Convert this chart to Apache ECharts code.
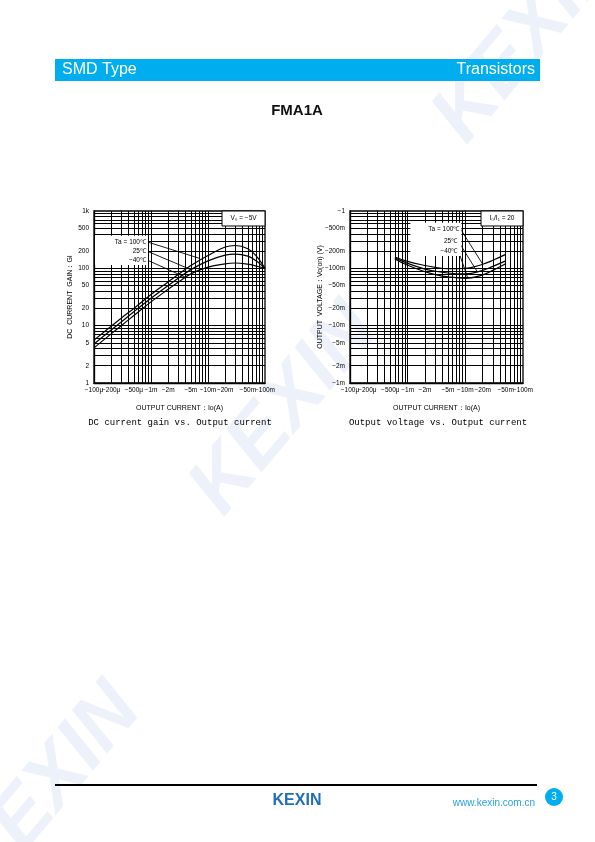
<!DOCTYPE html>
<html><head><meta charset="utf-8">
<script src="https://cdn.jsdelivr.net/npm/echarts@6/dist/echarts.min.js"></script>
<style>html,body{margin:0;padding:0;background:#fff}#c{width:595px;height:842px}</style>
</head><body><div id="c"></div>
<script>
// ---------- data ----------
// Left chart: DC current gain vs output current (current magnitude in A)
const gainCurrent = [0.0001,0.0002,0.0003,0.0005,0.001,0.002,0.003,0.005,0.01,0.02,0.03,0.05,0.07,0.1];
const gain100 = [5.6,9.8,13.5,20,35,58,78,112,168,235,250,220,165,100];
const gain25  = [4.8,8.4,11.6,17.5,30,50,67,95,135,170,177,163,135,100];
const gainM40 = [4.1,7.2,10,15,26,43,57,80,105,120,124,118,110,100];
// Right chart: output voltage vs output current (magnitudes, V)
const satCurrent = [0.0006,0.001,0.002,0.003,0.005,0.01,0.02,0.03,0.05];
const sat100 = [0.158,0.132,0.112,0.104,0.099,0.100,0.118,0.138,0.175];
const sat25  = [0.152,0.122,0.097,0.089,0.083,0.080,0.092,0.108,0.135];
const satM40 = [0.146,0.113,0.087,0.078,0.071,0.067,0.077,0.092,0.120];
// tick labels
const xTickVals = [0.0001,0.0002,0.0005,0.001,0.002,0.005,0.01,0.02,0.05,0.1];
const xTickText = ['−100μ','−200μ','−500μ','−1m','−2m','−5m','−10m','−20m','−50m','−100m'];
const gainTickVals = [1,2,5,10,20,50,100,200,500,1000];
const gainTickText = ['1','2','5','10','20','50','100','200','500','1k'];
const voltTickVals = [0.001,0.002,0.005,0.01,0.02,0.05,0.1,0.2,0.5,1];
const voltTickText = ['−1m','−2m','−5m','−10m','−20m','−50m','−100m','−200m','−500m','−1'];
// log paper grid (1..9 per decade)
const gridMult = [1,2,3,4,5,6,7,8,9];
const xDecades = [0.0001,0.001,0.01];
const gainDecades = [1,10,100];
const voltDecades = [0.001,0.01,0.1];
// annotation leader lines [startX,startY,endX,endY]
const gainLeaders = [[0.00085,290,0.007,150],[0.00085,200,0.005,95],[0.00085,140,0.004,70]];
const gainLeaderText = ['Ta = 100℃','25℃','−40℃'];
const satLeaders = [[0.0082,0.49,0.02,0.118],[0.0075,0.30,0.016,0.088],[0.0076,0.20,0.011,0.068]];
const satLeaderText = ['Ta = 100℃','25℃','−40℃'];

function gridValues(decades){
  const out = [];
  decades.forEach(d=>gridMult.forEach(k=>out.push(d*k)));
  return out;
}
const FONT = 'Liberation Sans Narrow, Liberation Sans, Arial';
function xAxis(gi){
  return {type:'log', gridIndex:gi, min:0.0001, max:0.1, logBase:10,
    axisLine:{show:true,lineStyle:{color:'#000',width:1.3}},
    axisTick:{show:false}, axisLabel:{show:false}, splitLine:{show:false},
    name:'OUTPUT CURRENT：Io(A)', nameLocation:'middle', nameGap:22,
    nameTextStyle:{fontSize:7,color:'#000',fontFamily:FONT}};
}
function yAxis(gi,min,max,name,gap){
  return {type:'log', gridIndex:gi, min:min, max:max, logBase:10,
    axisLine:{show:true,lineStyle:{color:'#000',width:1.3}},
    axisTick:{show:false}, axisLabel:{show:false}, splitLine:{show:false},
    name:name, nameLocation:'middle', nameGap:gap, nameRotate:90,
    nameTextStyle:{fontSize:7,color:'#000',fontFamily:FONT}};
}
function curve(gi,xs,ys){
  return {type:'line', xAxisIndex:gi, yAxisIndex:gi, smooth:0.4, symbol:'none', silent:true,
    lineStyle:{color:'#000',width:1.2}, data:xs.map((x,i)=>[x,ys[i]]), z:5};
}
function leader(gi,l){
  return {type:'line', xAxisIndex:gi, yAxisIndex:gi, symbol:'none', silent:true,
    lineStyle:{color:'#000',width:0.9}, data:[[l[0],l[1]],[l[2],l[3]]], z:6};
}
function gridSeries(gi, xDec, yDec, xMin, xMax, yMin, yMax){
  const d = [];
  gridValues(xDec).forEach(v=>d.push({coords:[[v,yMin],[v,yMax]]}));
  gridValues(yDec).forEach(v=>d.push({coords:[[xMin,v],[xMax,v]]}));
  return {type:'lines', coordinateSystem:'cartesian2d', xAxisIndex:gi, yAxisIndex:gi, silent:true, z:2,
    lineStyle:{color:'#000', width:1, opacity:1, curveness:0}, data:d};
}

const chart = echarts.init(document.getElementById('c'), null, {renderer:'canvas'});
const series = [
  gridSeries(0, xDecades, gainDecades, 0.0001, 0.1, 1, 1000),
  gridSeries(1, xDecades, voltDecades, 0.0001, 0.1, 0.001, 1),
  curve(0,gainCurrent,gain100), curve(0,gainCurrent,gain25), curve(0,gainCurrent,gainM40),
  curve(1,satCurrent,sat100), curve(1,satCurrent,sat25), curve(1,satCurrent,satM40)
];
gainLeaders.forEach(l=>series.push(leader(0,l)));
satLeaders.forEach(l=>series.push(leader(1,l)));

chart.setOption({
  animation:false,
  grid:[
    {left:94, top:211, width:171, height:172, show:true, borderColor:'#000', borderWidth:1.3, backgroundColor:'transparent'},
    {left:350, top:211, width:173, height:172, show:true, borderColor:'#000', borderWidth:1.3, backgroundColor:'transparent'}
  ],
  xAxis:[xAxis(0), xAxis(1)],
  yAxis:[
    yAxis(0,1,1000,'DC  CURRENT  GAIN：GI',20),
    yAxis(1,0.001,1,'OUTPUT  VOLTAGE：Vo(on) (V)',26)
  ],
  series:series
});

// ---------- decorations ----------
const g = [];
const wmColor = '#edf2fa';
[[285,410],[528,38],[48,790]].forEach(p=>{
  g.push({type:'text', x:p[0], y:p[1], rotation:50*Math.PI/180, z:-10, silent:true,
    style:{text:'KEXIN', fill:wmColor, font:'bold italic 80px Liberation Sans, Arial', align:'center', verticalAlign:'middle'}});
});
g.push({type:'rect', shape:{x:55,y:59,width:485,height:22}, style:{fill:'#00aeef'}, z:1});
g.push({type:'text', x:62, y:70, style:{text:'SMD Type', fill:'#fff', font:'16px Liberation Sans, Arial', verticalAlign:'middle'}, z:2});
g.push({type:'text', x:535, y:70, style:{text:'Transistors', fill:'#fff', font:'16px Liberation Sans, Arial', align:'right', verticalAlign:'middle'}, z:2});
g.push({type:'text', x:297, y:111, style:{text:'FMA1A', fill:'#111', font:'bold 15px Liberation Sans, Arial', align:'center', verticalAlign:'middle'}, z:2});
g.push({type:'text', x:180, y:423, style:{text:'DC current gain vs. Output current', fill:'#000', font:'9px Liberation Mono, DejaVu Sans Mono', align:'center', verticalAlign:'middle'}, z:2});
g.push({type:'text', x:438, y:423, style:{text:'Output voltage vs. Output current', fill:'#000', font:'9px Liberation Mono, DejaVu Sans Mono', align:'center', verticalAlign:'middle'}, z:2});
g.push({type:'line', shape:{x1:55,y1:785,x2:537,y2:785}, style:{stroke:'#000', lineWidth:2}, z:2});
g.push({type:'text', x:297, y:801, style:{text:'KEXIN', fill:'#1f6fb8', font:'bold 16px Liberation Sans, Arial', align:'center', verticalAlign:'middle'}, z:2});
g.push({type:'text', x:535, y:803, style:{text:'www.kexin.com.cn', fill:'#2aa2e0', font:'10px Liberation Sans, Arial', align:'right', verticalAlign:'middle'}, z:2});
g.push({type:'circle', shape:{cx:554,cy:797,r:9}, style:{fill:'#00aeef'}, z:2});
g.push({type:'text', x:554, y:797, style:{text:'3', fill:'#fff', font:'10px Liberation Sans, Arial', align:'center', verticalAlign:'middle'}, z:3});

// tick labels placed through the axes' own scales
function tickLabels(gi, xMinY){
  xTickVals.forEach((v,i)=>{
    const p = chart.convertToPixel({gridIndex:gi},[v, xMinY]);
    g.push({type:'text', x:p[0], y:p[1]+4, style:{text:xTickText[i], fill:'#000', font:'6.5px '+FONT, align:'center', verticalAlign:'top'}, z:22});
  });
}
tickLabels(0, 1); tickLabels(1, 0.001);
gainTickVals.forEach((v,i)=>{
  const p = chart.convertToPixel({gridIndex:0},[0.0001, v]);
  g.push({type:'text', x:p[0]-5, y:p[1], style:{text:gainTickText[i], fill:'#000', font:'6.5px '+FONT, align:'right', verticalAlign:'middle'}, z:22});
});
voltTickVals.forEach((v,i)=>{
  const p = chart.convertToPixel({gridIndex:1},[0.0001, v]);
  g.push({type:'text', x:p[0]-5, y:p[1], style:{text:voltTickText[i], fill:'#000', font:'6.5px '+FONT, align:'right', verticalAlign:'middle'}, z:22});
});

// condition boxes (top-right of each plot)
function box(gi, corner, text, w){
  const p = chart.convertToPixel({gridIndex:gi}, corner);
  g.push({type:'rect', shape:{x:p[0]-w, y:p[1], width:w, height:15}, style:{fill:'#fff', stroke:'#000', lineWidth:1}, z:20});
  g.push({type:'text', x:p[0]-w/2, y:p[1]+7.5, style:{text:text, fill:'#000', font:'6.5px '+FONT, align:'center', verticalAlign:'middle'}, z:21});
}
box(0,[0.1,1000],'V₀ = −5V',43);
box(1,[0.1,1],'I₀/I₁ = 20',42);
// temperature labels
function tempLabels(gi, leaders, texts, padL){
  const ps = leaders.map(l=>chart.convertToPixel({gridIndex:gi},[l[0],l[1]]));
  const right = ps[0][0];
  g.push({type:'rect', shape:{x:right-padL, y:ps[0][1]-6, width:padL+1, height:ps[ps.length-1][1]-ps[0][1]+11}, style:{fill:'#fff'}, z:20});
  ps.forEach((p,i)=>{
    g.push({type:'text', x:p[0]-1, y:p[1], style:{text:texts[i], fill:'#000', font:'6.5px '+FONT, align:'right', verticalAlign:'middle'}, z:21});
  });
}
tempLabels(0, gainLeaders, gainLeaderText, 52);
tempLabels(1, satLeaders, satLeaderText, 50);
chart.setOption({graphic:g});
</script>
</body></html>
